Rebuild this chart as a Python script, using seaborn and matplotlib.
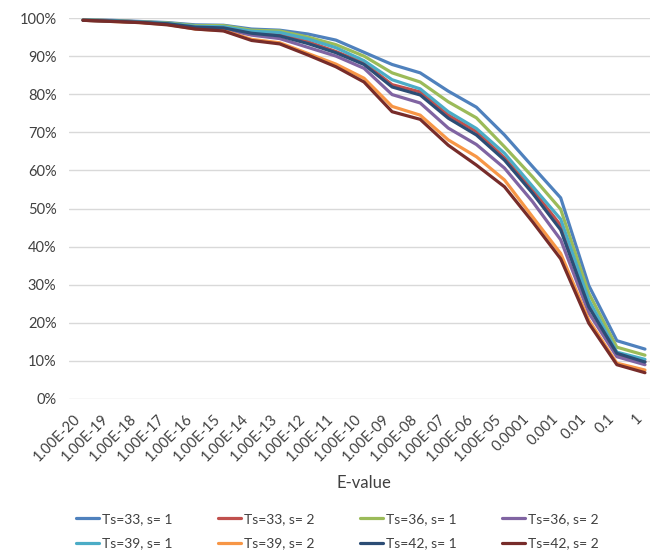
import pandas as pd
import numpy as np
import matplotlib
matplotlib.use('Agg')
import matplotlib.pyplot as plt
import seaborn as sns

# E-value thresholds (x categories)
evalues = ['1.00E-20', '1.00E-19', '1.00E-18', '1.00E-17', '1.00E-16', '1.00E-15',
           '1.00E-14', '1.00E-13', '1.00E-12', '1.00E-11', '1.00E-10', '1.00E-09',
           '1.00E-08', '1.00E-07', '1.00E-06', '1.00E-05', '0.0001', '0.001',
           '0.01', '0.1', '1']

# percentages
ts33_s1 = [99.5, 99.4, 99.1, 98.8, 98.2, 98.1, 97.1, 96.8, 95.8, 94.2, 91.0, 87.8,
           85.6, 80.8, 76.6, 69.3, 61.0, 52.8, 29.8, 15.3, 13.1]
ts33_s2 = [99.5, 99.3, 99.0, 98.6, 97.7, 97.5, 96.2, 95.8, 93.8, 91.2, 88.2, 82.5,
           80.6, 74.5, 70.2, 63.3, 54.9, 45.6, 24.8, 11.6, 9.8]
ts36_s1 = [99.5, 99.3, 99.0, 98.7, 98.0, 98.0, 96.8, 96.6, 95.0, 93.0, 90.0, 85.6,
           83.2, 78.0, 73.8, 66.2, 58.3, 49.8, 27.8, 13.6, 11.5]
ts36_s2 = [99.4, 99.2, 98.9, 98.4, 97.4, 97.1, 95.5, 94.6, 92.3, 90.0, 86.8, 79.9,
           77.7, 71.1, 66.8, 60.6, 51.8, 41.8, 22.6, 11.1, 9.0]
ts39_s1 = [99.5, 99.3, 99.0, 98.6, 97.8, 97.7, 96.5, 96.2, 94.5, 92.2, 88.8, 83.8,
           81.4, 75.4, 71.0, 64.5, 55.8, 47.2, 26.0, 12.3, 10.4]
ts39_s2 = [99.4, 99.1, 98.8, 98.3, 97.1, 96.7, 94.4, 93.5, 90.7, 87.9, 84.2, 76.8,
           74.5, 68.0, 63.6, 57.5, 47.8, 38.2, 20.7, 9.4, 7.6]
ts42_s1 = [99.4, 99.2, 98.9, 98.5, 97.6, 97.4, 96.0, 95.3, 93.3, 90.9, 87.8, 81.9,
           79.8, 73.7, 69.3, 62.7, 54.0, 44.4, 24.2, 12.0, 9.7]
ts42_s2 = [99.4, 99.1, 98.8, 98.2, 97.1, 96.6, 94.1, 93.2, 90.3, 87.2, 83.2, 75.4,
           73.4, 66.6, 61.4, 55.7, 46.5, 36.8, 19.9, 9.0, 6.9]

series_names = ['Ts=33, s= 1', 'Ts=33, s= 2', 'Ts=36, s= 1', 'Ts=36, s= 2',
                'Ts=39, s= 1', 'Ts=39, s= 2', 'Ts=42, s= 1', 'Ts=42, s= 2']
series_values = [ts33_s1, ts33_s2, ts36_s1, ts36_s2, ts39_s1, ts39_s2, ts42_s1, ts42_s2]
colors = ['#4F81BD', '#C0504D', '#9BBB59', '#8064A2',
          '#4BACC6', '#F79646', '#2C4D75', '#772C2A']

rows = []
for name, vals in zip(series_names, series_values):
    for i, (ev, v) in enumerate(zip(evalues, vals)):
        rows.append({'pos': i, 'E-value': ev, 'series': name, 'pct': v / 100})
df = pd.DataFrame(rows)

sns.set_style('white')
plt.rcParams['font.family'] = ['Lato', 'DejaVu Sans']

fig = plt.figure(figsize=(6.5, 5.55), dpi=100)
ax = fig.add_axes([69 / 650, 1 - 399 / 555, 590 / 650, 381 / 555])

sns.lineplot(data=df, x='pos', y='pct', hue='series', hue_order=series_names,
             palette=dict(zip(series_names, colors)), linewidth=2.3, sort=False,
             ax=ax, zorder=3)

ax.set_xlim(-0.5, len(evalues) - 0.5)
ax.set_ylim(0, 1)
ax.set_yticks(np.arange(0, 1.01, 0.1))
ax.set_yticklabels([f'{int(round(t * 100))}%' for t in np.arange(0, 1.01, 0.1)])
ax.set_xticks(range(len(evalues)))
ax.set_xticklabels(evalues, rotation=45, ha='right', va='top')
ax.tick_params(axis='y', length=0, pad=9, labelsize=10.5, labelcolor='#404040')
ax.tick_params(axis='x', length=0, pad=9, labelsize=10.5, labelcolor='#404040')
ax.grid(axis='y', color='#D9D9D9', linewidth=1)
ax.set_axisbelow(True)
for s in ax.spines.values():
    s.set_visible(False)
ax.set_ylabel('')
ax.set_xlabel('E-value', fontsize=12, color='#404040', labelpad=8)

handles, labels = ax.get_legend_handles_labels()
order = [0, 4, 1, 5, 2, 6, 3, 7]
ax.legend([handles[i] for i in order], [labels[i] for i in order],
          ncol=4, loc='upper left', bbox_to_anchor=(76 / 650, 1 - 513 / 555),
          bbox_transform=fig.transFigure, frameon=False, fontsize=10,
          handlelength=1.65, handletextpad=0.2, columnspacing=3.3,
          labelspacing=0.9, borderaxespad=0, borderpad=0)
for t in ax.get_legend().get_texts():
    t.set_color('#404040')

fig.savefig('out.png', dpi=100)
